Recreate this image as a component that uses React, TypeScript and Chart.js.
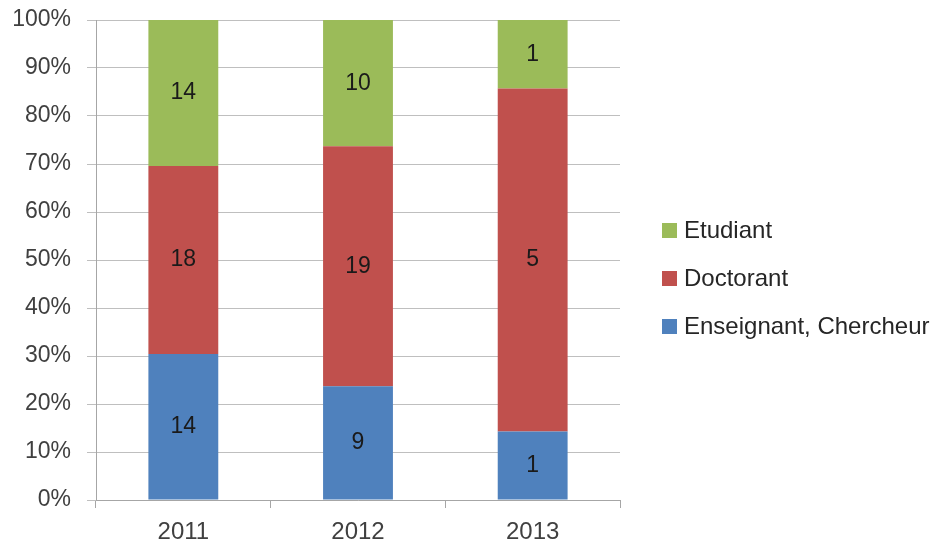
import React, { useEffect, useRef } from "react";
import { Chart, registerables } from "chart.js";

Chart.register(...registerables);

const categories = ["2011", "2012", "2013"];
const enseignant = [14, 9, 1];
const doctorant = [18, 19, 5];
const etudiant = [14, 10, 1];
const yTicks = [0, 10, 20, 30, 40, 50, 60, 70, 80, 90, 100];

const seriesNames = ["Enseignant, Chercheur", "Doctorant", "Etudiant"];
const seriesColors = ["#4F81BD", "#C0504D", "#9BBB59"];

const FONT = "'Liberation Sans', Arial, sans-serif";

export default function App() {
  const ref = useRef<HTMLCanvasElement | null>(null);

  useEffect(() => {
    document.body.style.margin = "0";
    const counts = [enseignant, doctorant, etudiant];
    const totals = categories.map((_, i) => counts.reduce((s, arr) => s + arr[i], 0));
    const pct = counts.map((arr) => arr.map((v, i) => (v / totals[i]) * 100));

    const labelsPlugin = {
      id: "segLabels",
      afterDatasetsDraw(chart: any) {
        const ctx = chart.ctx;
        ctx.save();
        ctx.font = `23px ${FONT}`;
        ctx.fillStyle = "#1a1a1a";
        ctx.textAlign = "center";
        ctx.textBaseline = "middle";
        chart.data.datasets.forEach((ds: any, di: number) => {
          const meta = chart.getDatasetMeta(di);
          meta.data.forEach((el: any, i: number) => {
            const y = (el.y + el.base) / 2;
            ctx.fillText(String(counts[di][i]), el.x, y);
          });
        });
        ctx.restore();
      },
    };

    const legendPlugin = {
      id: "customLegend",
      afterDraw(chart: any) {
        const ctx = chart.ctx;
        const area = chart.chartArea;
        const mid = (area.top + area.bottom) / 2;
        ctx.save();
        ctx.font = `24px ${FONT}`;
        ctx.textBaseline = "middle";
        ctx.textAlign = "left";
        const order = [2, 1, 0];
        order.forEach((di, row) => {
          const y = mid - 30 + row * 48;
          const x = area.right + 42;
          ctx.fillStyle = seriesColors[di];
          ctx.fillRect(x, y - 7, 15, 15);
          ctx.fillStyle = "#262626";
          ctx.fillText(seriesNames[di], x + 22, y + 1);
        });
        ctx.restore();
      },
    };

    const chart = new Chart(ref.current as HTMLCanvasElement, {
      type: "bar",
      data: {
        labels: categories,
        datasets: seriesNames.map((name, di) => ({
          label: name,
          data: pct[di],
          backgroundColor: seriesColors[di],
          borderWidth: 0,
          categoryPercentage: 1,
          barPercentage: 0.4,
        })),
      },
      options: {
        animation: false,
        responsive: false,
        maintainAspectRatio: false,
        layout: { padding: { top: 20, right: 311, left: 0, bottom: 0 } },
        plugins: {
          legend: { display: false },
          tooltip: { enabled: false },
        },
        scales: {
          x: {
            stacked: true,
            afterFit(scale: any) {
              scale.height = 48;
            },
            grid: {
              display: true,
              drawOnChartArea: false,
              drawTicks: true,
              tickLength: 8,
              color: "#A6A6A6",
              offset: true,
            },
            border: { display: true, color: "#A6A6A6", width: 1 },
            ticks: {
              font: { family: FONT, size: 24 },
              color: "#404040",
              padding: 10,
            },
          },
          y: {
            stacked: true,
            min: 0,
            max: 100,
            afterFit(scale: any) {
              scale.width = 96;
              scale.paddingTop = 0;
              scale.paddingBottom = 0;
            },
            afterBuildTicks(scale: any) {
              scale.ticks = yTicks.map((v) => ({ value: v }));
            },
            grid: {
              color: "#BFBFBF",
              tickLength: 9,
              drawTicks: true,
            },
            border: { display: true, color: "#A6A6A6", width: 1 },
            ticks: {
              font: { family: FONT, size: 23 },
              color: "#404040",
              padding: 16,
              callback: (v: any) => `${v}%`,
            },
          },
        },
      },
      plugins: [labelsPlugin, legendPlugin],
    });
    return () => chart.destroy();
  }, []);

  return (
    <div style={{ width: 931, height: 548, background: "#fff" }}>
      <canvas ref={ref} width={931} height={548} style={{ display: "block" }} />
    </div>
  );
}
